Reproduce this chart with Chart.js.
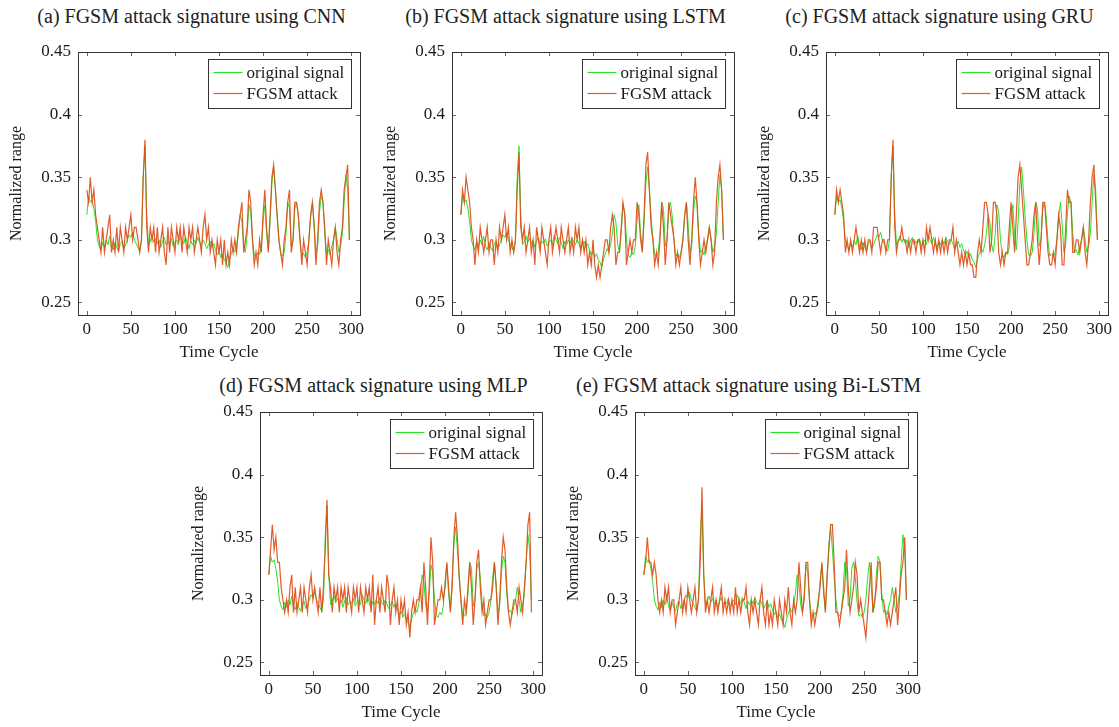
<!DOCTYPE html>
<html>
<head>
<meta charset="utf-8">
<script src="https://cdn.jsdelivr.net/npm/chart.js@4.4.1/dist/chart.umd.min.js"></script>
<style>
  html, body { margin: 0; padding: 0; background: #fff; overflow: hidden; width: 1119px; height: 727px; }
  .box { position: absolute; }
  .ttl { position: absolute; width: 420px; text-align: center; font-family: "Liberation Serif", "Times New Roman", serif; font-size: 20px; line-height: 24px; color: #222; white-space: nowrap; }
</style>
</head>
<body>
<script>
// ---------------- DATA ----------------
const timeCycle = [0,2,4,6,8,10,12,14,16,18,20,22,24,26,28,30,32,34,36,38,40,42,44,46,48,50,52,54,56,58,
60,62,64,66,68,70,72,74,76,78,80,82,84,86,88,90,92,94,96,98,100,102,104,106,108,110,112,114,116,118,
120,122,124,126,128,130,132,134,136,138,140,142,144,146,148,150,152,154,156,158,160,162,164,166,168,170,172,174,176,178,
180,182,184,186,188,190,192,194,196,198,200,202,204,206,208,210,212,214,216,218,220,222,224,226,228,230,232,234,236,238,
240,242,244,246,248,250,252,254,256,258,260,262,264,266,268,270,272,274,276,278,280,282,284,286,288,290,292,294,296,298];

const originalSignal = [
.320,.335,.330,.332,.325,.315,.300,.295,.292,.298,
.294,.300,.296,.303,.295,.292,.298,.294,.291,.297,
.299,.293,.296,.300,.304,.302,.306,.300,.297,.294,
.291,.300,.350,.375,.320,.296,.299,.303,.298,.301,
.297,.300,.294,.299,.302,.296,.299,.297,.301,.295,
.298,.300,.296,.304,.300,.297,.302,.298,.293,.299,
.296,.300,.297,.302,.298,.296,.300,.297,.293,.296,
.299,.294,.297,.292,.288,.291,.286,.289,.284,.282,
.278,.285,.289,.293,.290,.296,.305,.320,.314,.296,
.290,.305,.328,.322,.300,.288,.286,.290,.288,.295,
.315,.328,.305,.292,.315,.345,.358,.340,.318,.300,
.288,.287,.290,.305,.330,.325,.295,.300,.325,.330,
.318,.298,.287,.289,.286,.290,.300,.318,.330,.312,
.290,.296,.322,.335,.330,.305,.290,.292,.288,.295,
.300,.310,.300,.290,.295,.305,.330,.352,.340,.300];

const attackCNN = [
.34,.33,.35,.33,.34,.32,.31,.30,.29,.31,
.29,.30,.31,.32,.29,.30,.29,.31,.29,.31,
.30,.29,.31,.30,.31,.32,.30,.31,.31,.30,
.29,.30,.35,.38,.31,.29,.31,.30,.31,.29,
.31,.29,.30,.31,.29,.28,.31,.29,.31,.30,
.29,.31,.30,.31,.29,.31,.30,.29,.31,.30,
.31,.29,.30,.31,.30,.29,.31,.32,.30,.31,
.29,.30,.29,.28,.30,.29,.30,.28,.30,.28,
.29,.28,.30,.29,.30,.29,.31,.32,.33,.29,
.30,.31,.34,.33,.30,.28,.29,.28,.30,.29,
.32,.34,.31,.29,.32,.35,.36,.34,.32,.30,
.29,.28,.30,.31,.33,.34,.29,.30,.33,.33,
.32,.30,.28,.30,.29,.28,.30,.32,.33,.31,
.28,.30,.33,.34,.33,.31,.28,.30,.29,.28,
.30,.31,.29,.28,.30,.31,.34,.35,.36,.30];

const attackLSTM = [
.32,.34,.33,.35,.34,.33,.31,.30,.28,.30,
.29,.31,.30,.29,.30,.31,.29,.30,.30,.28,
.30,.29,.31,.30,.31,.32,.30,.31,.29,.30,
.29,.30,.34,.37,.31,.30,.31,.29,.30,.31,
.29,.30,.28,.31,.30,.29,.31,.30,.29,.28,
.30,.31,.29,.30,.31,.30,.29,.31,.30,.29,
.30,.31,.29,.30,.29,.31,.30,.31,.29,.30,
.29,.30,.28,.29,.28,.30,.28,.27,.28,.27,
.28,.29,.30,.30,.29,.31,.32,.31,.28,.29,
.29,.31,.33,.32,.28,.29,.30,.29,.30,.30,
.33,.32,.30,.29,.32,.36,.37,.34,.31,.30,
.28,.29,.28,.30,.33,.31,.28,.30,.33,.32,
.31,.30,.28,.29,.28,.29,.30,.32,.33,.30,
.28,.30,.33,.35,.33,.30,.28,.29,.30,.29,
.30,.31,.30,.28,.29,.33,.35,.36,.34,.30];

const attackGRU = [
.32,.34,.33,.34,.33,.32,.29,.30,.29,.30,
.29,.30,.31,.30,.29,.30,.29,.30,.29,.30,
.30,.29,.31,.31,.31,.30,.29,.30,.30,.29,
.30,.30,.35,.38,.31,.29,.30,.30,.31,.30,
.30,.29,.30,.29,.30,.30,.29,.30,.30,.29,
.30,.29,.31,.30,.31,.30,.29,.30,.29,.30,
.29,.30,.29,.30,.29,.30,.30,.31,.29,.30,
.29,.28,.29,.28,.29,.28,.29,.28,.28,.27,
.27,.29,.30,.29,.31,.33,.33,.32,.29,.30,
.33,.33,.32,.29,.28,.29,.28,.29,.29,.31,
.33,.31,.29,.32,.35,.36,.34,.32,.30,.28,
.28,.29,.30,.32,.33,.30,.28,.30,.33,.33,
.31,.29,.28,.28,.29,.28,.30,.32,.31,.28,
.28,.31,.34,.33,.33,.29,.29,.30,.30,.29,
.30,.31,.29,.28,.30,.33,.35,.36,.33,.30];

const attackMLP = [
.32,.34,.36,.34,.35,.33,.33,.31,.30,.29,
.30,.29,.31,.32,.29,.31,.29,.30,.31,.29,
.31,.30,.29,.31,.32,.30,.31,.30,.29,.31,
.29,.31,.34,.38,.32,.31,.29,.31,.30,.31,
.29,.31,.30,.31,.29,.31,.30,.29,.31,.30,
.31,.29,.31,.30,.29,.31,.30,.31,.29,.32,
.28,.30,.31,.29,.31,.30,.29,.32,.31,.28,
.30,.31,.29,.30,.28,.30,.29,.30,.28,.29,
.27,.29,.30,.29,.30,.30,.31,.29,.33,.31,
.28,.31,.35,.33,.28,.29,.30,.30,.31,.30,
.31,.33,.31,.29,.31,.35,.37,.35,.32,.30,
.28,.30,.29,.31,.33,.31,.28,.30,.33,.34,
.31,.29,.30,.28,.29,.30,.30,.31,.33,.31,
.28,.30,.33,.35,.34,.31,.29,.28,.29,.30,
.30,.29,.31,.30,.29,.31,.33,.36,.37,.29];

const attackBiLSTM = [
.32,.33,.35,.33,.33,.32,.33,.32,.30,.29,
.30,.29,.31,.30,.31,.29,.30,.30,.28,.29,
.30,.31,.29,.30,.29,.31,.30,.29,.30,.31,
.29,.30,.33,.39,.32,.29,.30,.29,.30,.31,
.29,.30,.29,.30,.31,.29,.30,.29,.30,.29,
.30,.29,.31,.29,.30,.29,.30,.30,.31,.29,
.28,.30,.29,.30,.29,.28,.30,.31,.29,.28,
.30,.28,.29,.28,.30,.29,.28,.30,.29,.28,
.30,.29,.31,.29,.28,.30,.29,.30,.33,.31,
.29,.30,.33,.33,.30,.28,.29,.28,.29,.30,
.31,.33,.31,.29,.32,.34,.36,.36,.33,.29,
.29,.28,.29,.30,.31,.34,.31,.29,.30,.31,
.33,.32,.29,.30,.29,.28,.27,.29,.31,.33,
.29,.30,.31,.33,.33,.30,.30,.29,.28,.29,
.28,.29,.30,.31,.28,.30,.32,.33,.35,.30];

const xTicks = [0, 50, 100, 150, 200, 250, 300];
const xTickLabels = ['0', '50', '100', '150', '200', '250', '300'];
const yTicks = [0.25, 0.3, 0.35, 0.4, 0.45];
const yTickLabels = ['0.25', '0.3', '0.35', '0.4', '0.45'];

const seriesNames = ['original signal', 'FGSM attack'];
const panelTitles = [
  '(a) FGSM attack signature using CNN',
  '(b) FGSM attack signature using LSTM',
  '(c) FGSM attack signature using GRU',
  '(d) FGSM attack signature using MLP',
  '(e) FGSM attack signature using Bi-LSTM'
];
const attackSeries = [attackCNN, attackLSTM, attackGRU, attackMLP, attackBiLSTM];
const xAxisTitle = 'Time Cycle';
const yAxisTitle = 'Normalized range';

// ---------------- LAYOUT ----------------
const SERIF = '"Liberation Serif", "Times New Roman", serif';
const GREEN = 'rgb(40,228,40)';
const RED = 'rgba(222,78,26,0.92)';
// chart-area left/top of each panel
const panels = [
  {ax: 78,  ay: 52,  tc: 191.5, ty: 16},
  {ax: 452, ay: 52,  tc: 565.5, ty: 16},
  {ax: 826, ay: 52,  tc: 939.5, ty: 16},
  {ax: 260, ay: 412, tc: 373.5, ty: 385},
  {ax: 635, ay: 412, tc: 748.5, ty: 385}
];
const CW = 374, CH = 325;

const framePlugin = {
  id: 'frame',
  afterDatasetsDraw(chart) {
    const {ctx, chartArea: a, scales} = chart;
    const xs = scales.x, ys = scales.y;
    ctx.save();
    ctx.strokeStyle = '#666';
    ctx.lineWidth = 1;
    ctx.beginPath();
    xTicks.forEach(v => {
      const px = Math.round(xs.getPixelForValue(v)) + 0.5;
      ctx.moveTo(px, a.bottom); ctx.lineTo(px, a.bottom - 4);
      ctx.moveTo(px, a.top); ctx.lineTo(px, a.top + 4);
    });
    yTicks.forEach(v => {
      const py = Math.round(ys.getPixelForValue(v)) + 0.5;
      ctx.moveTo(a.left, py); ctx.lineTo(a.left + 4, py);
      ctx.moveTo(a.right, py); ctx.lineTo(a.right - 4, py);
    });
    ctx.stroke();
    ctx.strokeStyle = '#333';
    ctx.strokeRect(Math.round(a.left) + 0.5, Math.round(a.top) + 0.5,
                   Math.round(a.right - a.left), Math.round(a.bottom - a.top));
    ctx.restore();
  },
  afterDraw(chart) {
    const {ctx, chartArea: a} = chart;
    const w = 143, h = 49;
    const bx = Math.round(a.right - 9 - w) + 0.5, by = Math.round(a.top + 7) + 0.5;
    ctx.save();
    ctx.fillStyle = '#fff';
    ctx.fillRect(bx, by, w, h);
    ctx.strokeStyle = '#333';
    ctx.lineWidth = 1;
    ctx.strokeRect(bx, by, w, h);
    ctx.font = '17px ' + SERIF;
    ctx.textBaseline = 'middle';
    ctx.textAlign = 'left';
    chart.data.datasets.forEach((ds, i) => {
      const yy = by + 13 + i * 21;
      ctx.strokeStyle = ds.borderColor;
      ctx.lineWidth = 1.2;
      ctx.beginPath(); ctx.moveTo(bx + 5, yy); ctx.lineTo(bx + 34, yy); ctx.stroke();
      ctx.fillStyle = '#1a1a1a';
      ctx.fillText(ds.label, bx + 38, yy + 1);
    });
    ctx.restore();
  }
};

panels.forEach((p, k) => {
  const div = document.createElement('div');
  div.className = 'box';
  div.style.left = (p.ax - 78) + 'px';
  div.style.top = (p.ay - 12) + 'px';
  div.style.width = CW + 'px';
  div.style.height = CH + 'px';
  const cv = document.createElement('canvas');
  cv.width = CW; cv.height = CH;
  div.appendChild(cv);
  document.body.appendChild(div);

  const t = document.createElement('div');
  t.className = 'ttl';
  t.style.left = (p.tc - 210) + 'px';
  t.style.top = (p.ty - 12) + 'px';
  t.textContent = panelTitles[k];
  document.body.appendChild(t);

  const attack = attackSeries[k];
  new Chart(cv, {
    type: 'line',
    data: {
      datasets: [
        {label: seriesNames[0], data: timeCycle.map((x, i) => ({x, y: originalSignal[i]})),
         borderColor: GREEN, borderWidth: 1, pointRadius: 0, tension: 0, order: 1},
        {label: seriesNames[1], data: timeCycle.map((x, i) => ({x, y: attack[i]})),
         borderColor: RED, borderWidth: 1.2, pointRadius: 0, tension: 0, order: 0}
      ]
    },
    options: {
      responsive: false, animation: false, devicePixelRatio: 1,
      layout: {autoPadding: false, padding: {top: 12, right: 14, bottom: 0, left: 0}},
      plugins: {legend: {display: false}, tooltip: {enabled: false}, title: {display: false}},
      scales: {
        x: {
          type: 'linear', min: -10, max: 310,
          afterBuildTicks: s => { s.ticks = xTicks.map(v => ({value: v})); },
          afterFit: s => { s.height = 50; s.paddingLeft = 0; s.paddingRight = 0; },
          grid: {display: false, drawTicks: false},
          border: {display: false},
          ticks: {autoSkip: false, maxRotation: 0, padding: 4, color: '#1a1a1a',
                  font: {family: SERIF, size: 17}, callback: (v, i) => xTickLabels[i]},
          title: {display: true, text: xAxisTitle, color: '#1a1a1a',
                  font: {family: SERIF, size: 17}, padding: {top: 0, bottom: 2}}
        },
        y: {
          type: 'linear', min: 0.24, max: 0.45,
          afterBuildTicks: s => { s.ticks = yTicks.map(v => ({value: v})); },
          afterFit: s => { s.width = 78; s.paddingTop = 0; s.paddingBottom = 0; },
          grid: {display: false, drawTicks: false},
          border: {display: false},
          ticks: {autoSkip: false, padding: 7, color: '#1a1a1a',
                  font: {family: SERIF, size: 17}, callback: (v, i) => yTickLabels[i]},
          title: {display: true, text: yAxisTitle, color: '#1a1a1a',
                  font: {family: SERIF, size: 16}, padding: {top: 7, bottom: 0}}
        }
      }
    },
    plugins: [framePlugin]
  });
});
</script>
</body>
</html>
